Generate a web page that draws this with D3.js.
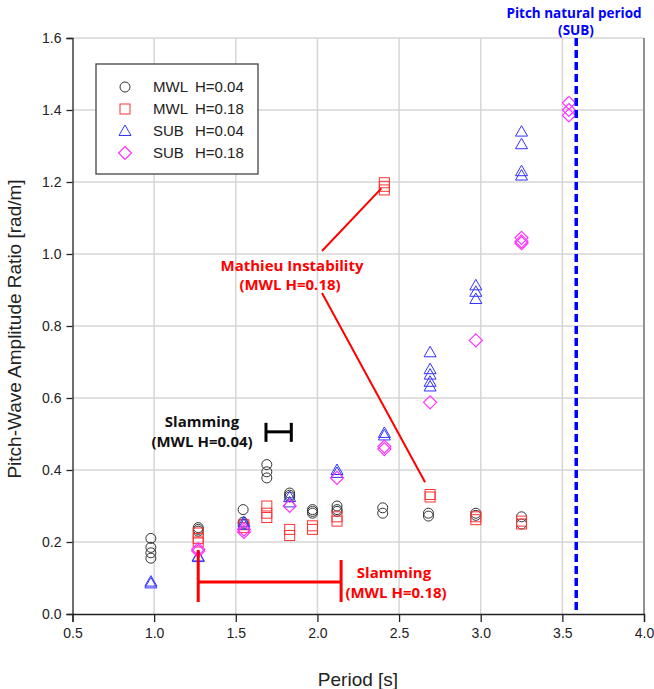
<!DOCTYPE html>
<html>
<head>
<meta charset="utf-8">
<script src="https://cdn.jsdelivr.net/npm/d3@7"></script>
<style>
  html, body { margin: 0; padding: 0; background: #fff; }
  svg { display: block; }
  text { font-family: "Liberation Sans", Arial, sans-serif; }
  .note { font-family: "Open Sans", "Liberation Sans", sans-serif; font-weight: bold; }
</style>
</head>
<body>
<div id="chart"></div>
<script>
// Pitch-wave amplitude ratio against wave period, [period, ratio] pairs
const mwlH004 = [
  [0.98, 0.21], [0.98, 0.185], [0.98, 0.17], [0.98, 0.155],
  [1.27, 0.24], [1.27, 0.235], [1.27, 0.23],
  [1.545, 0.29], [1.545, 0.255], [1.545, 0.25],
  [1.69, 0.415], [1.69, 0.395], [1.69, 0.378],
  [1.83, 0.336], [1.83, 0.33], [1.83, 0.325],
  [1.97, 0.29], [1.97, 0.285], [1.97, 0.28],
  [2.12, 0.30], [2.12, 0.29], [2.12, 0.285],
  [2.40, 0.295], [2.40, 0.28],
  [2.68, 0.28], [2.68, 0.272],
  [2.97, 0.28], [2.97, 0.274],
  [3.25, 0.27], [3.25, 0.25]
];
const mwlH018 = [
  [1.27, 0.225], [1.27, 0.21], [1.27, 0.20],
  [1.55, 0.248], [1.55, 0.24],
  [1.69, 0.30], [1.69, 0.28], [1.69, 0.268],
  [1.83, 0.235], [1.83, 0.218],
  [1.97, 0.245], [1.97, 0.235],
  [2.12, 0.27], [2.12, 0.258],
  [2.41, 1.198], [2.41, 1.188], [2.41, 1.178],
  [2.69, 0.332], [2.69, 0.325],
  [2.97, 0.27], [2.97, 0.262],
  [3.25, 0.258], [3.25, 0.25]
];
const subH004 = [
  [0.98, 0.09], [0.98, 0.085],
  [1.27, 0.16], [1.27, 0.158],
  [1.55, 0.255], [1.55, 0.248],
  [1.83, 0.325], [1.83, 0.31],
  [2.12, 0.40], [2.12, 0.392],
  [2.41, 0.503], [2.41, 0.496],
  [2.69, 0.727], [2.69, 0.68], [2.69, 0.665], [2.69, 0.645], [2.69, 0.632],
  [2.97, 0.913], [2.97, 0.895], [2.97, 0.875],
  [3.25, 1.34], [3.25, 1.305], [3.25, 1.23], [3.25, 1.218]
];
const subH018 = [
  [1.27, 0.18], [1.27, 0.175],
  [1.55, 0.235], [1.55, 0.228],
  [1.83, 0.30],
  [2.12, 0.378],
  [2.41, 0.465], [2.41, 0.458],
  [2.69, 0.588],
  [2.97, 0.76],
  [3.25, 1.045], [3.25, 1.035], [3.25, 1.03],
  [3.54, 1.42], [3.54, 1.40], [3.54, 1.385]
];

const xTicks = [0.5, 1.0, 1.5, 2.0, 2.5, 3.0, 3.5, 4.0];
const yTicks = [0.0, 0.2, 0.4, 0.6, 0.8, 1.0, 1.2, 1.4, 1.6];

const legendLabels = [
  ["MWL", "H=0.04"], ["MWL", "H=0.18"], ["SUB", "H=0.04"], ["SUB", "H=0.18"]
];

// Pitch natural period of the submerged case
const pitchNaturalPeriod = 3.585;
// Slamming ranges: [start period, end period, level]
const slammingMwl004 = [1.685, 1.84, 0.506];
const slammingMwl018 = [1.27, 2.145, 0.089];
// Mathieu instability points being pointed at
const mathieuTargets = [[2.41, 1.188], [2.69, 0.33]];

const W = 654, H = 689;
const svg = d3.select("#chart").append("svg").attr("width", W).attr("height", H);

const x = d3.scaleLinear().domain([0.5, 4.0]).range([72.5, 644]);
const y = d3.scaleLinear().domain([0, 1.6]).range([614, 38]);

// grid
const grid = svg.append("g");
grid.selectAll(".gx").data(xTicks.slice(1)).join("line")
  .attr("x1", d => x(d)).attr("x2", d => x(d))
  .attr("y1", y(0)).attr("y2", y(1.6))
  .attr("stroke", "#d6d6d6").attr("stroke-width", 1.5);
grid.selectAll(".gy").data(yTicks.slice(1)).join("line")
  .attr("x1", x(0.5)).attr("x2", x(4.0))
  .attr("y1", d => y(d)).attr("y2", d => y(d))
  .attr("stroke", "#d6d6d6").attr("stroke-width", 1.5);

// right frame
svg.append("line")
  .attr("x1", x(4.0)).attr("x2", x(4.0)).attr("y1", y(1.6)).attr("y2", y(0))
  .attr("stroke", "#777").attr("stroke-width", 1.5);

// axes
const xAxis = svg.append("g").attr("transform", `translate(0,${y(0)})`)
  .call(d3.axisBottom(x).tickValues(xTicks).tickFormat(d3.format(".1f")).tickSize(8).tickPadding(6));
const yAxis = svg.append("g").attr("transform", `translate(${x(0.5)},0)`)
  .call(d3.axisLeft(y).tickValues(yTicks).tickFormat(d3.format(".1f")).tickSize(6).tickPadding(5));
[xAxis, yAxis].forEach(a => {
  a.select(".domain").attr("stroke", "#222").attr("stroke-width", 1.3);
  a.selectAll(".tick line").attr("stroke", "#222").attr("stroke-width", 1.3);
  a.selectAll(".tick text").attr("font-family", "Liberation Sans, Arial, sans-serif")
    .attr("font-size", 14).attr("fill", "#222");
});

// axis titles
svg.append("text").attr("x", 358).attr("y", 686).attr("text-anchor", "middle")
  .attr("font-size", 19).attr("fill", "#222").text("Period [s]");
svg.append("text").attr("transform", `translate(21,${329}) rotate(-90)`)
  .attr("text-anchor", "middle").attr("font-size", 19).attr("fill", "#222")
  .text("Pitch-Wave Amplitude Ratio [rad/m]");

// marker shapes
const circleMark = (g, pts) => g.selectAll("circle").data(pts).join("circle")
  .attr("cx", d => x(d[0])).attr("cy", d => y(d[1])).attr("r", 5)
  .attr("fill", "none").attr("stroke", "#333").attr("stroke-width", 1);
const squareMark = (g, pts) => g.selectAll("rect").data(pts).join("rect")
  .attr("x", d => x(d[0]) - 5).attr("y", d => y(d[1]) - 5).attr("width", 10).attr("height", 10)
  .attr("fill", "none").attr("stroke", "#ff3333").attr("stroke-width", 1);
const triPath = (cx, cy) => `M${cx},${cy - 6}L${cx + 6},${cy + 4.5}L${cx - 6},${cy + 4.5}Z`;
const triMark = (g, pts) => g.selectAll("path").data(pts).join("path")
  .attr("d", d => triPath(x(d[0]), y(d[1])))
  .attr("fill", "none").attr("stroke", "#3333ff").attr("stroke-width", 1);
const diaPath = (cx, cy) => `M${cx},${cy - 6.5}L${cx + 6.5},${cy}L${cx},${cy + 6.5}L${cx - 6.5},${cy}Z`;
const diaMark = (g, pts) => g.selectAll("path").data(pts).join("path")
  .attr("d", d => diaPath(x(d[0]), y(d[1])))
  .attr("fill", "none").attr("stroke", "#ff33ff").attr("stroke-width", 1.2);

circleMark(svg.append("g"), mwlH004);
squareMark(svg.append("g"), mwlH018);
triMark(svg.append("g"), subH004);
diaMark(svg.append("g"), subH018);

// pitch natural period line
svg.append("line")
  .attr("x1", x(pitchNaturalPeriod)).attr("x2", x(pitchNaturalPeriod))
  .attr("y1", y(1.6)).attr("y2", y(0))
  .attr("stroke", "#0000ff").attr("stroke-width", 3.5).attr("stroke-dasharray", "8,4");
svg.append("text").attr("class", "note").attr("x", 574).attr("y", 18)
  .attr("text-anchor", "middle").attr("font-size", 13.5).attr("fill", "#0000ff")
  .text("Pitch natural period");
svg.append("text").attr("class", "note").attr("x", 576).attr("y", 35)
  .attr("text-anchor", "middle").attr("font-size", 13.5).attr("fill", "#0000ff")
  .text("(SUB)");

// slamming range, MWL H=0.04
const s1 = svg.append("g").attr("stroke", "#000").attr("stroke-width", 3);
s1.append("line").attr("x1", x(slammingMwl004[0])).attr("x2", x(slammingMwl004[1]))
  .attr("y1", y(slammingMwl004[2])).attr("y2", y(slammingMwl004[2]));
[0, 1].forEach(i => s1.append("line")
  .attr("x1", x(slammingMwl004[i])).attr("x2", x(slammingMwl004[i]))
  .attr("y1", y(slammingMwl004[2]) - 9).attr("y2", y(slammingMwl004[2]) + 10));
svg.append("text").attr("class", "note").attr("x", 202).attr("y", 427)
  .attr("text-anchor", "middle").attr("font-size", 15).attr("fill", "#111").text("Slamming");
svg.append("text").attr("class", "note").attr("x", 202).attr("y", 447)
  .attr("text-anchor", "middle").attr("font-size", 15).attr("fill", "#111").text("(MWL H=0.04)");

// slamming range, MWL H=0.18
const s2 = svg.append("g").attr("stroke", "#ff0000").attr("stroke-width", 3);
s2.append("line").attr("x1", x(slammingMwl018[0])).attr("x2", x(slammingMwl018[1]))
  .attr("y1", y(slammingMwl018[2])).attr("y2", y(slammingMwl018[2]));
s2.append("line").attr("x1", x(slammingMwl018[0])).attr("x2", x(slammingMwl018[0]))
  .attr("y1", y(slammingMwl018[2]) - 32).attr("y2", y(slammingMwl018[2]) + 20);
s2.append("line").attr("x1", x(slammingMwl018[1])).attr("x2", x(slammingMwl018[1]))
  .attr("y1", y(slammingMwl018[2]) - 22).attr("y2", y(slammingMwl018[2]) + 20);
svg.append("text").attr("class", "note").attr("x", 394).attr("y", 578)
  .attr("text-anchor", "middle").attr("font-size", 15).attr("fill", "#ff0000").text("Slamming");
svg.append("text").attr("class", "note").attr("x", 396).attr("y", 598)
  .attr("text-anchor", "middle").attr("font-size", 15).attr("fill", "#ff0000").text("(MWL H=0.18)");

// Mathieu instability callout
svg.append("line").attr("x1", 322).attr("y1", 251)
  .attr("x2", x(mathieuTargets[0][0]) - 3).attr("y2", y(mathieuTargets[0][1]) + 2)
  .attr("stroke", "#ff0000").attr("stroke-width", 2);
svg.append("line").attr("x1", 322).attr("y1", 293)
  .attr("x2", x(mathieuTargets[1][0]) - 5).attr("y2", y(mathieuTargets[1][1]) - 13)
  .attr("stroke", "#ff0000").attr("stroke-width", 2);
svg.append("text").attr("class", "note").attr("x", 292).attr("y", 271)
  .attr("text-anchor", "middle").attr("font-size", 15).attr("fill", "#ff0000").text("Mathieu Instability");
svg.append("text").attr("class", "note").attr("x", 290).attr("y", 290)
  .attr("text-anchor", "middle").attr("font-size", 15).attr("fill", "#ff0000").text("(MWL H=0.18)");

// legend
const lg = svg.append("g");
lg.append("rect").attr("x", 96).attr("y", 64).attr("width", 162).attr("height", 110)
  .attr("fill", "#fff").attr("stroke", "#444").attr("stroke-width", 1.3);
const rowY = [87, 109, 131, 153];
const legendMarks = [
  g => g.append("circle").attr("r", 5).attr("fill", "none").attr("stroke", "#333"),
  g => g.append("rect").attr("x", -5).attr("y", -5).attr("width", 10).attr("height", 10)
        .attr("fill", "none").attr("stroke", "#ff3333"),
  g => g.append("path").attr("d", triPath(0, 0)).attr("fill", "none").attr("stroke", "#3333ff"),
  g => g.append("path").attr("d", diaPath(0, 0)).attr("fill", "none").attr("stroke", "#ff33ff").attr("stroke-width", 1.2)
];
legendLabels.forEach((lab, i) => {
  const g = lg.append("g").attr("transform", `translate(125,${rowY[i]})`);
  legendMarks[i](g);
  lg.append("text").attr("x", 153).attr("y", rowY[i] + 5).attr("font-size", 15).attr("fill", "#222").text(lab[0]);
  lg.append("text").attr("x", 195).attr("y", rowY[i] + 5).attr("font-size", 15).attr("fill", "#222").text(lab[1]);
});
</script>
</body>
</html>
